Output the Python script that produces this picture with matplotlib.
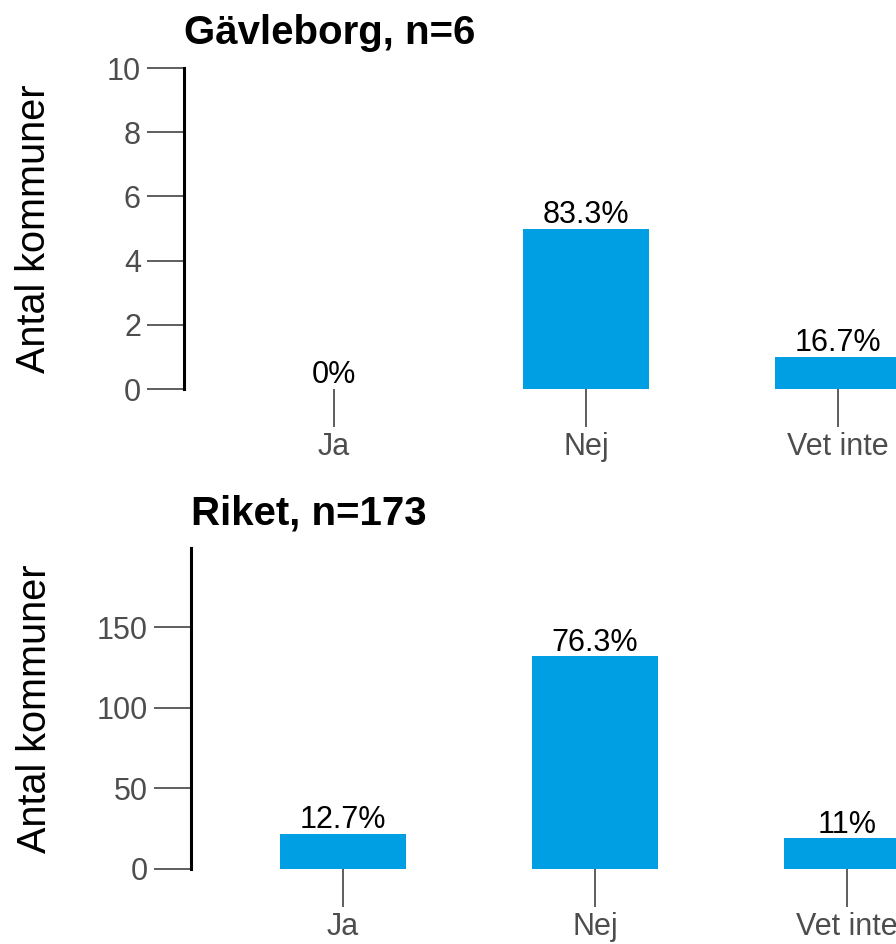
import matplotlib.pyplot as plt

plt.rcParams["font.family"] = ["Liberation Sans", "DejaVu Sans"]

categories = ["Ja", "Nej", "Vet inte"]

gavle_title = "Gävleborg, n=6"
gavle_counts = [0, 5, 1]
gavle_labels = ["0%", "83.3%", "16.7%"]
gavle_yticks = [0, 2, 4, 6, 8, 10]

riket_title = "Riket, n=173"
riket_counts = [22, 132, 19]
riket_labels = ["12.7%", "76.3%", "11%"]
riket_yticks = [0, 50, 100, 150]

BAR_COLOR = "#009FE3"
TICK_COLOR = "#333333"
LABEL_COLOR = "#4D4D4D"


def draw_panel(ax, title, counts, labels, yticks, ylim, xlim, label_x):
    x = list(range(len(categories)))
    bars = ax.bar(x, counts, width=0.5, color=BAR_COLOR)
    for bar, lab in zip(bars, labels):
        ax.annotate(
            lab,
            (bar.get_x() + bar.get_width() / 2, bar.get_height()),
            xytext=(0, 4),
            textcoords="offset points",
            ha="center",
            va="baseline",
            fontsize=22,
            color="black",
        )
    ax.set_xlim(*xlim)
    ax.set_ylim(*ylim)
    ax.set_xticks(x)
    ax.set_xticklabels(categories)
    ax.set_yticks(yticks)

    for side in ("top", "right", "bottom"):
        ax.spines[side].set_visible(False)
    ax.spines["left"].set_linewidth(2.2)
    ax.spines["left"].set_color("black")

    ax.tick_params(axis="both", length=27, width=1.1, color=TICK_COLOR,
                   labelsize=22, labelcolor=LABEL_COLOR)
    ax.tick_params(axis="y", pad=4)
    ax.tick_params(axis="x", pad=4)

    ax.set_ylabel("Antal kommuner", fontsize=28.5, color="black")
    ax.yaxis.set_label_coords(label_x, 0.5)
    ax.set_title(title, loc="left", fontsize=29, fontweight="bold", pad=17)


fig = plt.figure(figsize=(8.96, 9.44), dpi=100)

ax_top = fig.add_axes([184 / 896, 1 - 389 / 944, 1 - 184 / 896, (389 - 68) / 944])
draw_panel(ax_top, gavle_title, gavle_counts, gavle_labels, gavle_yticks,
           (0, 10), (-0.595, 2.23), -0.184)

ax_bot = fig.add_axes([191 / 896, 1 - 869 / 944, 1 - 191 / 896, (869 - 548) / 944])
draw_panel(ax_bot, riket_title, riket_counts, riket_labels, riket_yticks,
           (0, 199), (-0.603, 2.194), -0.194)

fig.savefig("out.png", dpi=100)
plt.close(fig)
